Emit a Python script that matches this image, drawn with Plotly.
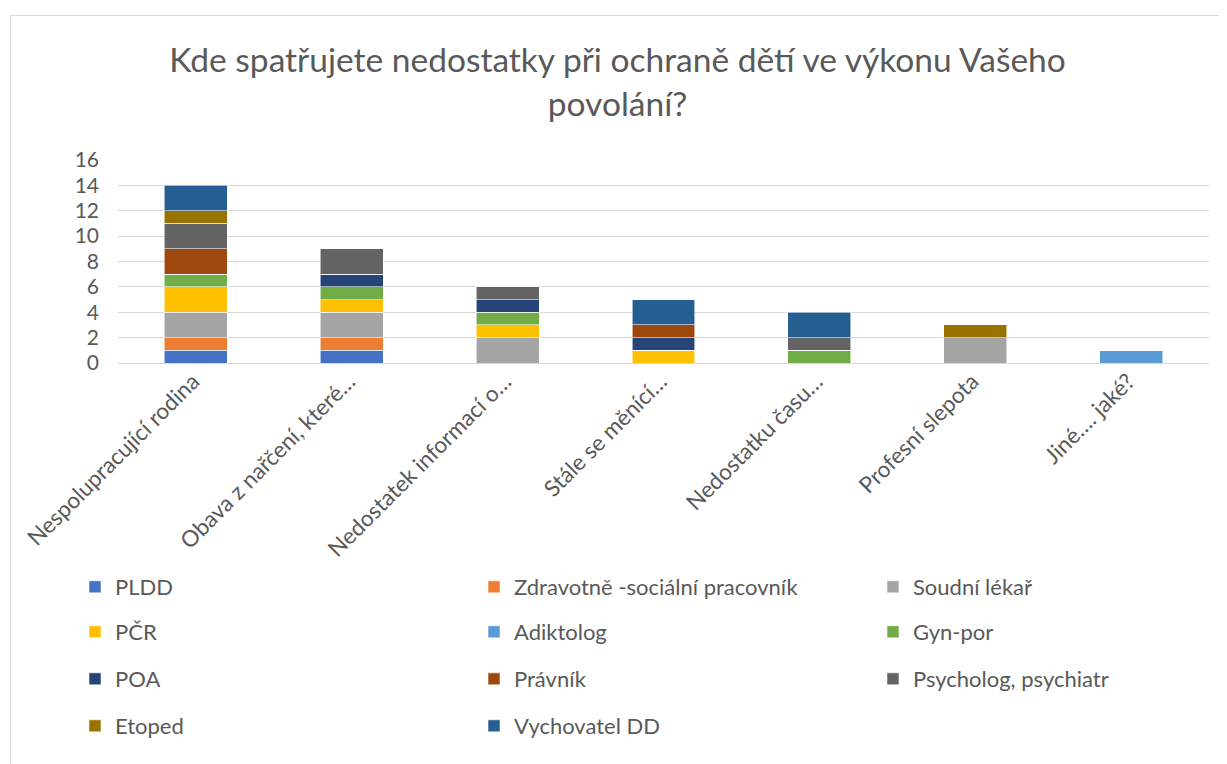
import plotly.graph_objects as go

categories = [
    "Nespolupracující rodina",
    "Obava z nařčení, které…",
    "Nedostatek informací o…",
    "Stále se měnící…",
    "Nedostatku času…",
    "Profesní slepota",
    "Jiné…. jaké?",
]

series_names = [
    "PLDD", "Zdravotně -sociální pracovník", "Soudní lékař",
    "PČR", "Adiktolog", "Gyn-por",
    "POA", "Právník", "Psycholog, psychiatr",
    "Etoped", "Vychovatel DD",
]

PLDD = [1, 1, 0, 0, 0, 0, 0]
Zdravotne = [1, 1, 0, 0, 0, 0, 0]
Soudni = [2, 2, 2, 0, 0, 2, 0]
PCR = [2, 1, 1, 1, 0, 0, 0]
Adiktolog = [0, 0, 0, 0, 0, 0, 1]
Gyn = [1, 1, 1, 0, 1, 0, 0]
POA = [0, 1, 1, 1, 0, 0, 0]
Pravnik = [2, 0, 0, 1, 0, 0, 0]
Psycholog = [2, 2, 1, 0, 1, 0, 0]
Etoped = [1, 0, 0, 0, 0, 1, 0]
Vychovatel = [2, 0, 0, 2, 2, 0, 0]

series_values = [PLDD, Zdravotne, Soudni, PCR, Adiktolog, Gyn, POA,
                 Pravnik, Psycholog, Etoped, Vychovatel]

colors = ["#4472C4", "#ED7D31", "#A5A5A5", "#FFC000", "#5B9BD5", "#70AD47",
          "#264478", "#9E480E", "#636363", "#997300", "#255E91"]

FONT = "Lato, 'Open Sans', sans-serif"
TXT = "#595959"

# page body has an 8px margin; work in reference pixel coords and subtract it
OFF = 8
W, H = 1227 - OFF, 764 - OFF
PL, PR, PT, PB = 118, 1209, 160, 363  # plot area in reference pixels
L, T = PL - OFF, PT - OFF
R = W - (PR - OFF)
B = H - (PB - OFF)
pw = PR - PL
ph = PB - PT

def px_x(p):
    return (p - PL) / pw

def px_y(p):
    return (PB - p) / ph

fig = go.Figure()
legend_layouts = {}
col_x = [75, 474, 873]
row_y = [587, 632, 679, 726]
for i, (name, vals, col) in enumerate(zip(series_names, series_values, colors)):
    key = "legend" if i == 0 else f"legend{i+1}"
    fig.add_trace(go.Bar(
        x=categories, y=vals, name=name, legend=key, showlegend=True,
        marker=dict(color=col, line=dict(color="rgba(255,255,255,0.7)", width=0.8)),
    ))
    r, c = divmod(i, 3)
    legend_layouts[key] = dict(
        x=px_x(col_x[c]), y=px_y(row_y[r]), xanchor="left", yanchor="middle",
        orientation="h", font=dict(family=FONT, size=22, color=TXT),
        bgcolor="rgba(0,0,0,0)", borderwidth=0, visible=True,
    )

fig.update_layout(
    width=W, height=H,
    margin=dict(l=L, r=R, t=T, b=B),
    barmode="stack", bargap=0.596,
    showlegend=True,
    plot_bgcolor="white", paper_bgcolor="white",
    title=dict(
        text="Kde spatřujete nedostatky při ochraně dětí ve výkonu Vašeho<br>povolání?",
        x=0.5, xref="container", xanchor="center",
        y=1 - 64 / H, yref="container", yanchor="top",
        font=dict(family=FONT, size=33.5, color=TXT),
    ),
    font=dict(family=FONT, color=TXT),
    xaxis=dict(
        tickangle=-45, tickfont=dict(family=FONT, size=22.5, color=TXT),
        showgrid=False, showline=False, ticks="", ticklabelshift=-3,
    ),
    yaxis=dict(
        range=[0, 16], dtick=2, tickfont=dict(family=FONT, size=21, color=TXT),
        showgrid=True, gridcolor="#d9d9d9", gridwidth=1.3,
        zeroline=True, zerolinecolor="#d9d9d9", zerolinewidth=1.3,
        showline=False, ticks="", ticklabelstandoff=18,
    ),
    shapes=[dict(
        type="rect", xref="paper", yref="paper",
        x0=px_x(10.5), x1=px_x(1250), y0=px_y(790), y1=px_y(15.5),
        line=dict(color="#d9d9d9", width=1.2), fillcolor="rgba(0,0,0,0)", layer="below",
    )],
    **legend_layouts,
)

fig.write_html("out.html")
